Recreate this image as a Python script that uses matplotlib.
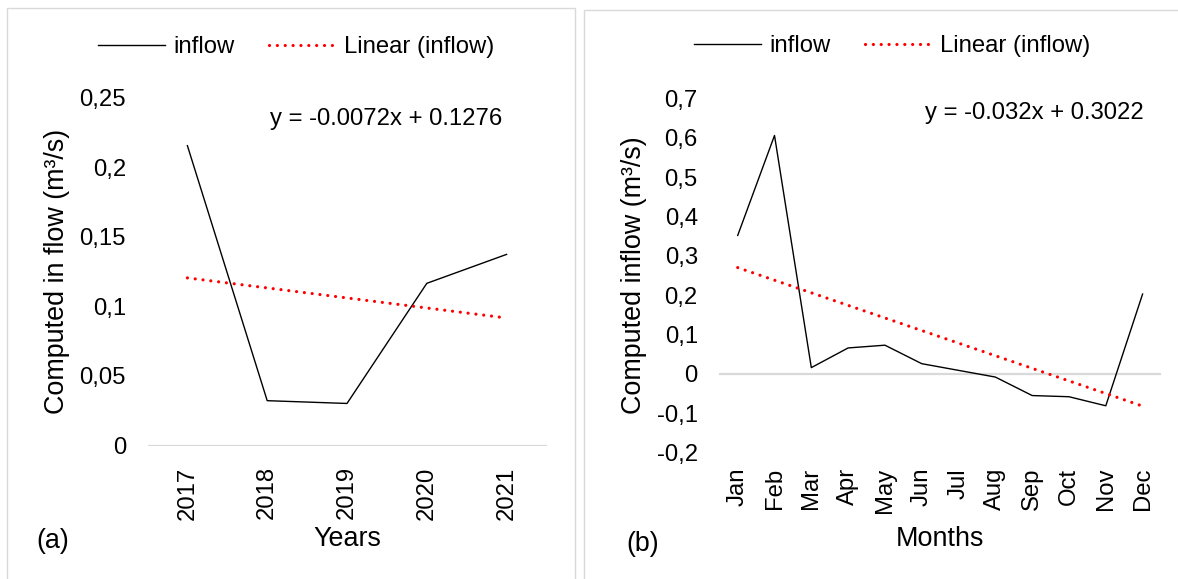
import matplotlib
matplotlib.use("Agg")
import matplotlib.pyplot as plt
from matplotlib.patches import Rectangle
from matplotlib.ticker import FuncFormatter, MultipleLocator
import numpy as np

plt.rcParams['font.family'] = ['Liberation Sans', 'DejaVu Sans']

# yearly inflow
years = ['2017', '2018', '2019', '2020', '2021']
inflow_year = [0.2154, 0.0322, 0.0302, 0.1165, 0.1373]
trend_year = (-0.0072, 0.1276)

# monthly inflow
months = ['Jan', 'Feb', 'Mar', 'Apr', 'May', 'Jun', 'Jul', 'Aug', 'Sep', 'Oct', 'Nov', 'Dec']
inflow_month = [0.352, 0.606, 0.016, 0.066, 0.073, 0.026, 0.009, -0.008, -0.055, -0.058, -0.081, 0.203]
trend_month = (-0.032, 0.3022)

W, H = 1178, 579
fig = plt.figure(figsize=(W / 100, H / 100), dpi=100)


def fx(px):
    return px / W


def fy(py):
    return 1 - py / H


def comma(v, pos):
    return ('%g' % round(v, 4)).replace('.', ',')


grey = '#d9d9d9'
tick_fs = 17.2
title_fs = 19.4

# panel frames
fig.patches.append(Rectangle((fx(7), -0.05), fx(575) - fx(7), fy(8) + 0.05,
                             transform=fig.transFigure, fill=False, ec=grey, lw=1))
fig.patches.append(Rectangle((fx(584), -0.05), 0.6, fy(10) + 0.05,
                             transform=fig.transFigure, fill=False, ec=grey, lw=1))


def panel(box, cats, vals, trend, ylim, step, xpad, legend_c, eq_xy, eq,
          ylab, ylab_x, xlab, xlab_y, tag, tag_xy):
    l, t, r, b = box
    ax = fig.add_axes([fx(l), fy(b), fx(r) - fx(l), fy(t) - fy(b)])
    x = np.arange(len(cats))
    ax.plot(x, vals, color='black', lw=1.0, label='inflow')
    # excel style linear trendline, x counted from 1
    slope, icpt = trend
    ax.plot(x, slope * (x + 1) + icpt, color='red', lw=2.3, linestyle=(0, (0.01, 2.45)),
            dash_capstyle='round', label='Linear (inflow)')
    ax.axhline(0, color=grey, lw=1.6, zorder=0)
    ax.set_xlim(-0.5, len(cats) - 0.5)
    ax.set_ylim(*ylim)
    ax.yaxis.set_major_locator(MultipleLocator(step))
    ax.yaxis.set_major_formatter(FuncFormatter(comma))
    ax.set_xticks(x)
    ax.set_xticklabels(cats, rotation=90)
    ax.tick_params(axis='both', length=0, labelsize=tick_fs)
    ax.tick_params(axis='y', pad=15.5)
    ax.tick_params(axis='x', pad=xpad)
    for s in ax.spines.values():
        s.set_visible(False)
    ax.set_facecolor('none')
    ax.legend(loc='center', bbox_to_anchor=(fx(legend_c[0]), fy(legend_c[1])),
              bbox_transform=fig.transFigure, ncol=2, frameon=False, fontsize=tick_fs,
              handlelength=2.8, handletextpad=0.35, columnspacing=1.45)
    fig.text(fx(eq_xy[0]), fy(eq_xy[1]), eq, fontsize=tick_fs, ha='left', va='center')
    fig.text(fx(ylab_x), fy((t + b) / 2), ylab, fontsize=title_fs, rotation=90,
             ha='center', va='center')
    fig.text(fx((l + r) / 2), fy(xlab_y), xlab, fontsize=title_fs, ha='center', va='baseline')
    fig.text(fx(tag_xy[0]), fy(tag_xy[1]), tag, fontsize=title_fs, ha='left', va='baseline')
    return ax


panel((147.5, 97.5, 546.5, 445.5), years, inflow_year, trend_year, (0, 0.25), 0.05, 15,
      (296, 47), (270, 118.5), 'y = -0.0072x + 0.1276',
      'Computed in flow (m³/s)', 57, 'Years', 545.5, '(a)', (36, 548))

panel((719.3, 98.5, 1161, 452.6), months, inflow_month, trend_month, (-0.2, 0.7), 0.1, 11,
      (892, 46), (925, 112.5), 'y = -0.032x + 0.3022',
      'Computed inflow (m³/s)', 634, 'Months', 545.5, '(b)', (626, 551))

fig.savefig('out.png', dpi=100, facecolor='white')
